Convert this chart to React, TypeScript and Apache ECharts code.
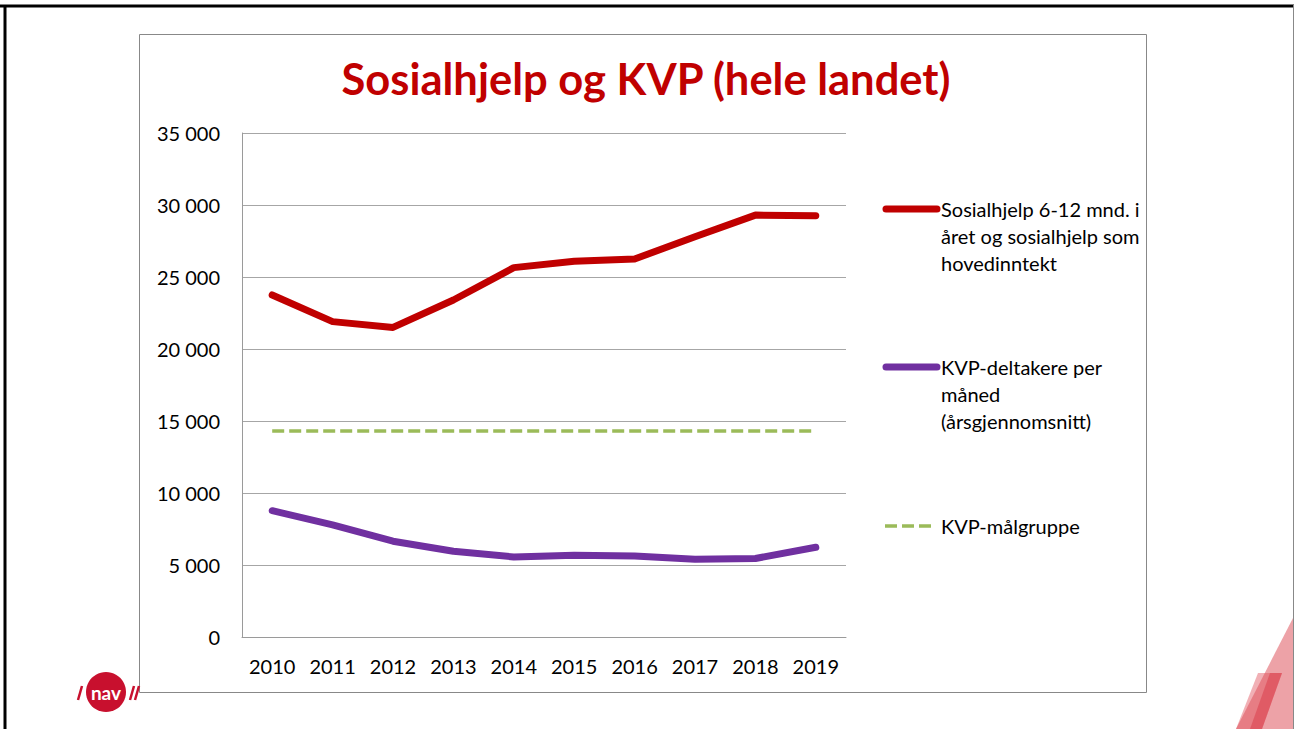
import React, { useEffect, useRef } from "react";
import * as echarts from "echarts";

const years = ["2010", "2011", "2012", "2013", "2014", "2015", "2016", "2017", "2018", "2019"];
const sosialhjelp = [23750, 21900, 21500, 23400, 25650, 26100, 26250, 27800, 29300, 29250];
const kvpDeltakere = [8770, 7780, 6650, 5950, 5560, 5680, 5620, 5400, 5450, 6230];
const kvpMalgruppe = [14300, 14300, 14300, 14300, 14300, 14300, 14300, 14300, 14300, 14300];
const yTicks = [0, 5000, 10000, 15000, 20000, 25000, 30000, 35000];

const seriesNames = [
  "Sosialhjelp 6-12 mnd. i\nåret og sosialhjelp som\nhovedinntekt",
  "KVP-deltakere per\nmåned\n(årsgjennomsnitt)",
  "KVP-målgruppe",
];

const RED = "#C00000";
const PURPLE = "#7030A0";
const GREEN = "#9BBB59";
const FONT = "Lato";

function fmt(v: number): string {
  return String(v).replace(/\B(?=(\d{3})+(?!\d))/g, " ");
}

export default function App() {
  const ref = useRef<HTMLDivElement>(null);
  useEffect(() => {
    document.body.style.margin = "0";
    const chart = echarts.init(ref.current!, null, { renderer: "svg" });
    const legendItems = [
      { y: 209, color: RED, width: 7, dashed: false, x1: 886, x2: 937 },
      { y: 367, color: PURPLE, width: 7, dashed: false, x1: 886, x2: 937 },
      { y: 526, color: GREEN, width: 3.5, dashed: true, x1: 885, x2: 934 },
    ];
    const graphics: any[] = [
      // slide border
      { type: "line", shape: { x1: 0, y1: 6, x2: 1294, y2: 6 }, style: { stroke: "#000", lineWidth: 3 }, z: 10 },
      { type: "line", shape: { x1: 5, y1: 5, x2: 5, y2: 729 }, style: { stroke: "#000", lineWidth: 3 }, z: 10 },
      { type: "line", shape: { x1: 1293.5, y1: 5, x2: 1293.5, y2: 729 }, style: { stroke: "#888", lineWidth: 1 }, z: 10 },
      // chart box
      { type: "rect", shape: { x: 139.5, y: 34.5, width: 1007, height: 658 }, style: { fill: "none", stroke: "#888", lineWidth: 1 }, z: -1 },
      // stripes bottom right
      { type: "polygon", shape: { points: [[1293, 618], [1293, 729], [1236, 729]] }, style: { fill: "rgba(220,70,80,0.5)" } },
      { type: "polygon", shape: { points: [[1258, 673], [1282, 673], [1262, 729], [1236, 729]] }, style: { fill: "rgba(225,80,90,0.45)" } },
      { type: "polygon", shape: { points: [[1270, 673], [1282, 673], [1262, 729], [1250, 729]] }, style: { fill: "rgba(215,50,65,0.45)" } },
      // nav logo
      { type: "circle", shape: { cx: 106, cy: 692, r: 20 }, style: { fill: "#C8102E" } },
      { type: "text", style: { text: "nav", x: 106, y: 692, fill: "#fff", font: "bold 19px " + FONT, align: "center", verticalAlign: "middle" } },
      { type: "line", shape: { x1: 78, y1: 700, x2: 82, y2: 686 }, style: { stroke: "#C8102E", lineWidth: 2.5 } },
      { type: "line", shape: { x1: 130, y1: 700, x2: 134, y2: 686 }, style: { stroke: "#C8102E", lineWidth: 2.5 } },
      { type: "line", shape: { x1: 135, y1: 700, x2: 139, y2: 686 }, style: { stroke: "#C8102E", lineWidth: 2.5 } },
    ];
    legendItems.forEach((it, i) => {
      graphics.push({
        type: "line",
        shape: { x1: it.x1, y1: it.y, x2: it.x2, y2: it.y },
        style: {
          stroke: it.color,
          lineWidth: it.width,
          lineCap: it.dashed ? "butt" : "round",
          lineDash: it.dashed ? [12, 5] : null,
        },
      });
      graphics.push({
        type: "text",
        style: {
          text: seriesNames[i],
          x: 941,
          y: it.y - 14,
          fill: "#000",
          font: "20px " + FONT,
          lineHeight: 27,
          verticalAlign: "top",
        },
      });
    });

    chart.setOption({
      animation: false,
      backgroundColor: "#fff",
      title: {
        text: "Sosialhjelp og KVP (hele landet)",
        left: 641,
        top: 51,
        textAlign: "center",
        textStyle: { color: RED, fontFamily: FONT, fontWeight: "bold", fontSize: 43.5 },
      },
      grid: { left: 242, top: 133, right: 448, bottom: 92, containLabel: false },
      xAxis: {
        type: "category",
        data: years,
        boundaryGap: true,
        axisLine: { lineStyle: { color: "#9a9a9a", width: 1 } },
        axisTick: { show: false },
        axisLabel: { color: "#000", fontFamily: FONT, fontSize: 20, margin: 19 },
      },
      yAxis: {
        type: "value",
        min: yTicks[0],
        max: yTicks[yTicks.length - 1],
        interval: 5000,
        axisLine: { show: true, lineStyle: { color: "#9a9a9a", width: 1 } },
        axisTick: { show: false },
        splitLine: { lineStyle: { color: "#a6a6a6", width: 1 } },
        axisLabel: { color: "#000", fontFamily: FONT, fontSize: 20, margin: 22, formatter: (v: number) => fmt(v) },
      },
      series: [
        {
          name: seriesNames[0],
          type: "line",
          data: sosialhjelp,
          symbol: "none",
          lineStyle: { color: RED, width: 7, cap: "round", join: "round" },
          z: 3,
        },
        {
          name: seriesNames[1],
          type: "line",
          data: kvpDeltakere,
          symbol: "none",
          lineStyle: { color: PURPLE, width: 7, cap: "round", join: "round" },
          z: 3,
        },
        {
          name: seriesNames[2],
          type: "line",
          data: kvpMalgruppe,
          symbol: "none",
          lineStyle: { color: GREEN, width: 3.5, type: [12, 5] },
          z: 2,
        },
      ],
      graphic: graphics,
    });
    return () => chart.dispose();
  }, []);
  return <div ref={ref} style={{ width: 1294, height: 729, position: "absolute", left: 0, top: 0 }} />;
}
